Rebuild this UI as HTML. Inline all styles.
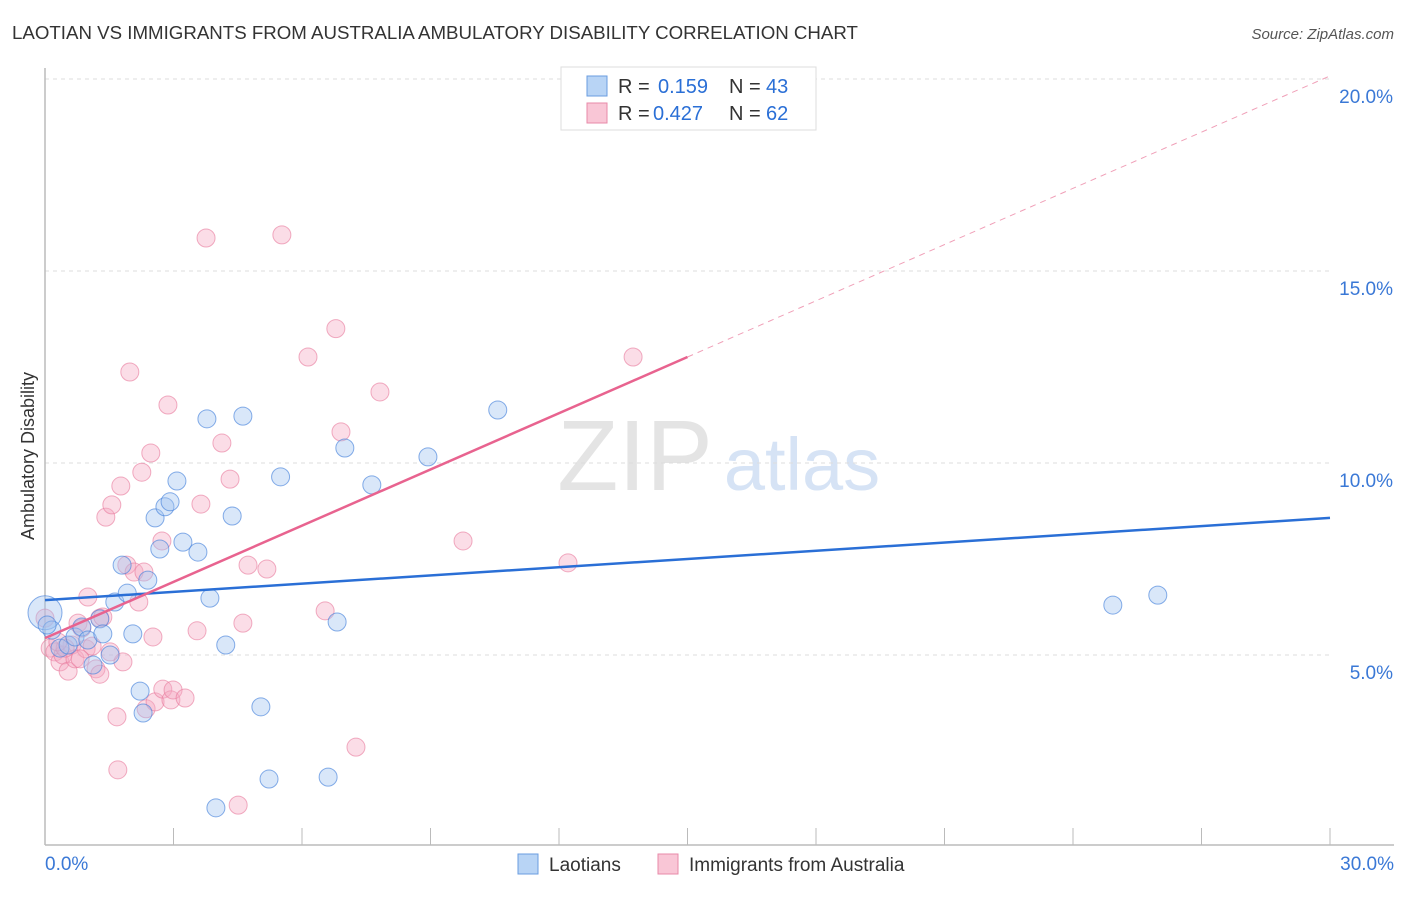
<!DOCTYPE html>
<html><head><meta charset="utf-8"><style>
body{margin:0;background:#fff;font-family:"Liberation Sans",sans-serif}
svg text{font-family:"Liberation Sans",sans-serif}
</style></head><body>
<svg id="c" width="1406" height="892" xmlns="http://www.w3.org/2000/svg">
<text x="12" y="39" font-size="18.7" fill="#333">LAOTIAN VS IMMIGRANTS FROM AUSTRALIA AMBULATORY DISABILITY CORRELATION CHART</text>
<text x="1394" y="39" font-size="15" fill="#555" font-style="italic" text-anchor="end">Source: ZipAtlas.com</text>
<text transform="translate(34,456) rotate(-90)" font-size="18" fill="#333" text-anchor="middle">Ambulatory Disability</text>
<g><text x="635" y="490" font-size="100" fill="#e4e4e4" font-family="Liberation Serif" text-anchor="middle">ZIP</text><text x="802" y="490" font-size="74" fill="#d6e3f5" text-anchor="middle">atlas</text></g>
<g id="grid"></g><g id="pts"></g><g id="lines"></g>
<g>
<rect x="561" y="67" width="255" height="63" fill="#fff" stroke="#ddd"/>
<rect x="587" y="76" width="20" height="20" fill="#b8d4f5" stroke="#6a9de0"/>
<rect x="587" y="103" width="20" height="20" fill="#f9c6d6" stroke="#e88aa8"/>
<text x="618" y="93" font-size="20" fill="#333">R =</text><text x="658" y="93" font-size="20" fill="#2a6fd6">0.159</text>
<text x="729" y="93" font-size="20" fill="#333">N =</text><text x="766" y="93" font-size="20" fill="#2a6fd6">43</text>
<text x="618" y="120" font-size="20" fill="#333">R =</text><text x="653" y="120" font-size="20" fill="#2a6fd6">0.427</text>
<text x="729" y="120" font-size="20" fill="#333">N =</text><text x="766" y="120" font-size="20" fill="#2a6fd6">62</text>
</g>
<g>
<rect x="518" y="854" width="20" height="20" fill="#b8d4f5" stroke="#6a9de0"/>
<text x="549" y="871" font-size="19" fill="#333">Laotians</text>
<rect x="658" y="854" width="20" height="20" fill="#f9c6d6" stroke="#e88aa8"/>
<text x="689" y="871" font-size="19" fill="#333">Immigrants from Australia</text>
</g>
</svg>
<script>
const yTicks=[5,10,15,20];
const yTickLabels=["5.0%","10.0%","15.0%","20.0%"];
const xTickLabels=["0.0%","30.0%"];
const blueX=[0,0.16,0.35,0.54,0.7,0.86,1.0,1.12,1.28,1.35,1.52,1.63,1.8,1.92,2.05,2.4,2.57,2.68,2.8,2.92,3.08,3.22,3.57,3.78,3.85,4.22,4.37,4.62,2.22,2.29,3.99,5.04,5.23,5.5,6.61,6.82,7.0,7.63,8.94,10.57,24.93,25.98,0.05];
const blueY=[6.1,5.65,5.18,5.26,5.47,5.73,5.39,4.74,5.94,5.55,5.0,6.38,7.34,6.61,5.55,6.95,8.57,7.76,8.86,8.99,9.53,7.94,7.68,11.15,6.48,5.26,8.62,11.22,4.06,3.49,1.02,3.65,1.77,9.64,1.82,5.86,10.39,9.43,10.16,11.38,6.3,6.56,5.78];
const blueR=[18,10,10,10,10,10,10,10,10,10,10,10,10,10,10,10,10,10,10,10,10,10,10,10,10,10,10,10,10,10,10,10,10,10,10,10,10,10,10,10,10,10,10];
const pinkX=[0,0.12,0.23,0.35,0.42,0.54,0.63,0.7,0.77,0.86,0.96,1.0,1.1,1.19,1.28,1.35,1.28,1.42,1.56,1.68,1.7,1.77,1.82,1.91,1.98,2.08,2.19,2.26,2.31,2.36,2.47,2.52,2.57,2.73,2.75,2.87,2.94,2.99,3.27,3.55,3.64,3.76,4.13,4.32,4.51,4.62,4.74,5.18,5.53,6.14,6.54,6.79,6.91,7.26,7.82,9.76,12.21,13.73,0.47,0.3,1.52,0.82];
const pinkY=[5.96,5.18,5.08,4.82,5.0,4.58,5.26,4.9,5.83,5.7,5.16,6.51,5.23,4.64,5.96,5.99,4.5,8.59,8.91,3.39,2.01,9.4,4.82,7.34,12.37,7.16,6.38,9.76,7.16,3.6,10.26,5.47,3.78,7.97,4.11,11.51,3.83,4.09,3.88,5.63,8.93,15.86,10.52,9.58,1.09,5.83,7.34,7.24,15.94,12.76,6.15,13.5,10.81,2.6,11.85,7.97,7.4,12.76,5.18,5.34,5.08,4.9];
const blueLine=[6.43,8.57], pinkLine=[5.44,20.08], pinkSolidEnd=15;
const X=v=>45+v*42.833, Y=v=>847-v*38.4;
const NS="http://www.w3.org/2000/svg";
function mk(tag,attrs,parent){const e=document.createElementNS(NS,tag);for(const k in attrs)e.setAttribute(k,attrs[k]);parent.appendChild(e);return e;}
const grid=document.getElementById('grid');
yTicks.forEach((t,i)=>{
 const l=mk('line',{x1:45,x2:1330,y1:Y(t),y2:Y(t),stroke:'#ddd','stroke-dasharray':'4,4'},grid);
 
 
 const tx=mk('text',{x:1393,y:Y(t)+24,'font-size':19,fill:'#3a78d6','text-anchor':'end'},grid);
 tx.textContent=yTickLabels[i];
 
 
});
const ax=mk('line',{x1:45,x2:1394,y1:845,y2:845,stroke:'#bbb','stroke-width':1.5},grid);


const ay=mk('line',{x1:45,x2:45,y1:68,y2:845,stroke:'#bbb','stroke-width':1.5},grid);


for(let i=1;i<=10;i++){
 const t=mk('line',{x1:X(i*3),x2:X(i*3),y1:828,y2:845,stroke:'#bbb'},grid);
 
 
}
[[0,'start',45],[30,'end',1394]].forEach((a,i)=>{
 const tx=mk('text',{x:a[2],y:870,'font-size':19,fill:'#3a78d6','text-anchor':a[1]},grid);
 tx.textContent=xTickLabels[i];
 
 
});
const pts=document.getElementById('pts');
pinkX.forEach((x,i)=>{
 const c=mk('circle',{cx:X(x),cy:Y(pinkY[i]),r:9,fill:'rgba(246,170,195,0.4)',stroke:'rgba(232,120,155,0.6)'},pts);
 
 
});
blueX.forEach((x,i)=>{
 const c=mk('circle',{cx:X(x),cy:Y(blueY[i]),r:blueR[i]-1,fill:'rgba(160,195,240,0.4)',stroke:'rgba(70,130,220,0.65)'},pts);
 
 
});
const ln=document.getElementById('lines');
const bl=mk('line',{x1:X(0),y1:Y(blueLine[0]),x2:X(30),y2:Y(blueLine[1]),stroke:'#2a6fd6','stroke-width':2.5},ln);


const pAt=x=>pinkLine[0]+(pinkLine[1]-pinkLine[0])*x/30;
const pl=mk('line',{x1:X(0),y1:Y(pAt(0)),x2:X(pinkSolidEnd),y2:Y(pAt(pinkSolidEnd)),stroke:'#e8638f','stroke-width':2.5},ln);


const pd=mk('line',{x1:X(pinkSolidEnd),y1:Y(pAt(pinkSolidEnd)),x2:X(30),y2:Y(pAt(30)),stroke:'#f0a0b8','stroke-width':1,'stroke-dasharray':'6,5'},ln);


</script>
</body></html>
